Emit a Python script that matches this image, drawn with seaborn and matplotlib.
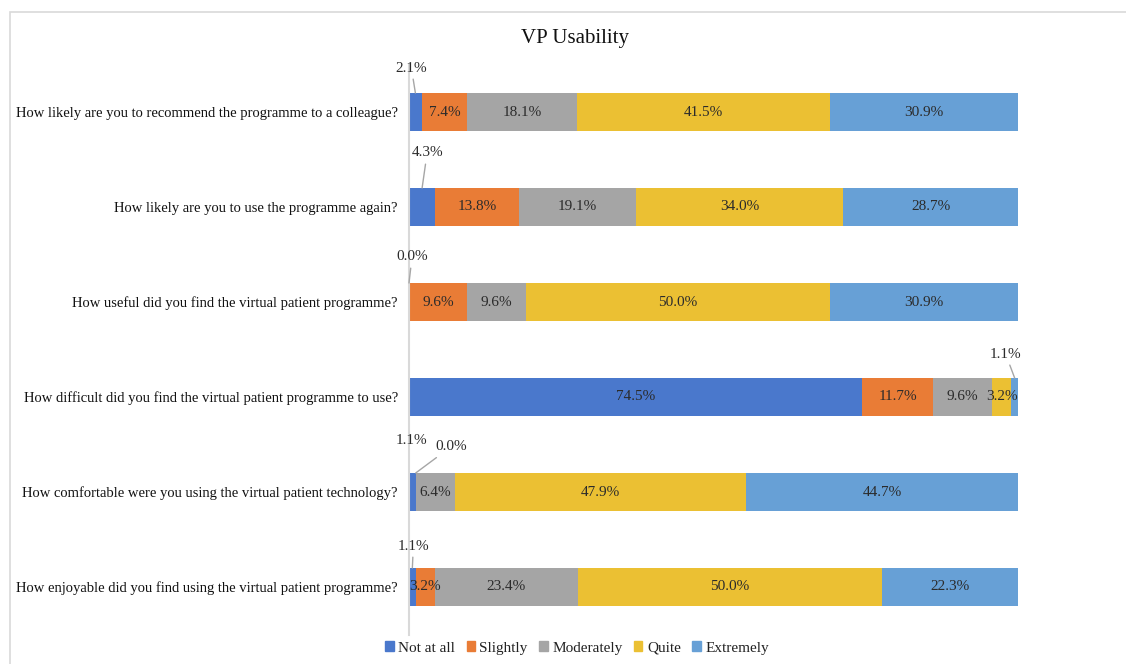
import numpy as np
import pandas as pd
import matplotlib
matplotlib.use("Agg")
import matplotlib.pyplot as plt
import seaborn as sns
from matplotlib.patches import Rectangle

questions = [
    "How likely are you to recommend the programme to a colleague?",
    "How likely are you to use the programme again?",
    "How useful did you find the virtual patient programme?",
    "How difficult did you find the virtual patient programme to use?",
    "How comfortable were you using the virtual patient technology?",
    "How enjoyable did you find using the virtual patient programme?",
]
series = ["Not at all", "Slightly", "Moderately", "Quite", "Extremely"]
not_at_all = [2.1, 4.3, 0.0, 74.5, 1.1, 1.1]
slightly = [7.4, 13.8, 9.6, 11.7, 0.0, 3.2]
moderately = [18.1, 19.1, 9.6, 9.6, 6.4, 23.4]
quite = [41.5, 34.0, 50.0, 3.2, 47.9, 50.0]
extremely = [30.9, 28.7, 30.9, 1.1, 44.7, 22.3]
colors = ["#4a78cc", "#e97c36", "#a5a5a5", "#ebc033", "#67a0d6"]

# outside labels: (row, series index) -> offset in pixels (dx, dy), draw leader line?
outside = {
    (0, 0): (-4, 25, True),
    (1, 0): (5, 35, True),
    (2, 0): (3, 26, True),
    (3, 4): (-9, 24, True),
    (4, 0): (-1, 32, False),
    (4, 1): (35, 26, True),
    (5, 0): (1, 22, True),
}

sns.set_theme(style="white")
plt.rcParams["font.family"] = ["Liberation Serif", "DejaVu Serif"]

vals = np.array([not_at_all, slightly, moderately, quite, extremely]).T
vals = vals / vals.sum(axis=1, keepdims=True) * 100.0
labels_raw = np.array([not_at_all, slightly, moderately, quite, extremely]).T
cum = np.cumsum(vals, axis=1)

W, H = 1126, 664
fig = plt.figure(figsize=(W / 100, H / 100), dpi=100)
ax = fig.add_axes([409 / W, 1 - 634.5 / H, (1018 - 409) / W, (634.5 - 64.5) / H])

for k in range(len(series) - 1, -1, -1):
    df = pd.DataFrame({"q": questions, "v": cum[:, k]})
    sns.barplot(data=df, x="v", y="q", orient="h", color=colors[k],
                width=0.4, ax=ax, saturation=1, linewidth=0)

ax.set_xlim(0, 100)
ax.set_ylim(5.5, -0.5)
ax.set_xlabel("")
ax.set_ylabel("")
ax.set_xticks([])
for s in ["top", "right", "bottom"]:
    ax.spines[s].set_visible(False)
ax.spines["left"].set_color("#d9d9d9")
ax.spines["left"].set_linewidth(1.5)
ax.tick_params(axis="y", length=0, pad=8, labelsize=10.55, labelcolor="#111111")

for i in range(len(questions)):
    for k in range(len(series)):
        v = vals[i, k]
        c = cum[i, k] - v / 2
        txt = f"{labels_raw[i, k]:.1f}%"
        if (i, k) in outside:
            dx, dy, line = outside[(i, k)]
            ax.annotate(txt, xy=(c, i - 0.2), xytext=(dx, dy),
                        textcoords="offset pixels", ha="center", va="center",
                        fontsize=11, color="#2b2b2b",
                        arrowprops=dict(arrowstyle="-", color="#a6a6a6", lw=1,
                                        shrinkA=1, shrinkB=0) if line else None)
        else:
            ax.text(c, i, txt, ha="center", va="center", fontsize=11, color="#2b2b2b")

fig.text(575 / W, 1 - 38 / H, "VP Usability", ha="center", va="center",
         fontsize=15, color="#111111")

handles = [Rectangle((0, 0), 1, 1, color=c) for c in colors]
fig.legend(handles, series, loc="center", bbox_to_anchor=(577 / W, 1 - 648 / H),
           ncol=5, frameon=False, fontsize=11, handlelength=0.55, handleheight=0.55,
           handletextpad=0.3, columnspacing=0.75, labelcolor="#222222")

fig.patches.append(Rectangle((9.5 / W, -0.05), 1.2, (H - 12) / H + 0.05,
                             transform=fig.transFigure, fill=False,
                             edgecolor="#d9d9d9", lw=1.2))

fig.savefig("out.png", dpi=100)
